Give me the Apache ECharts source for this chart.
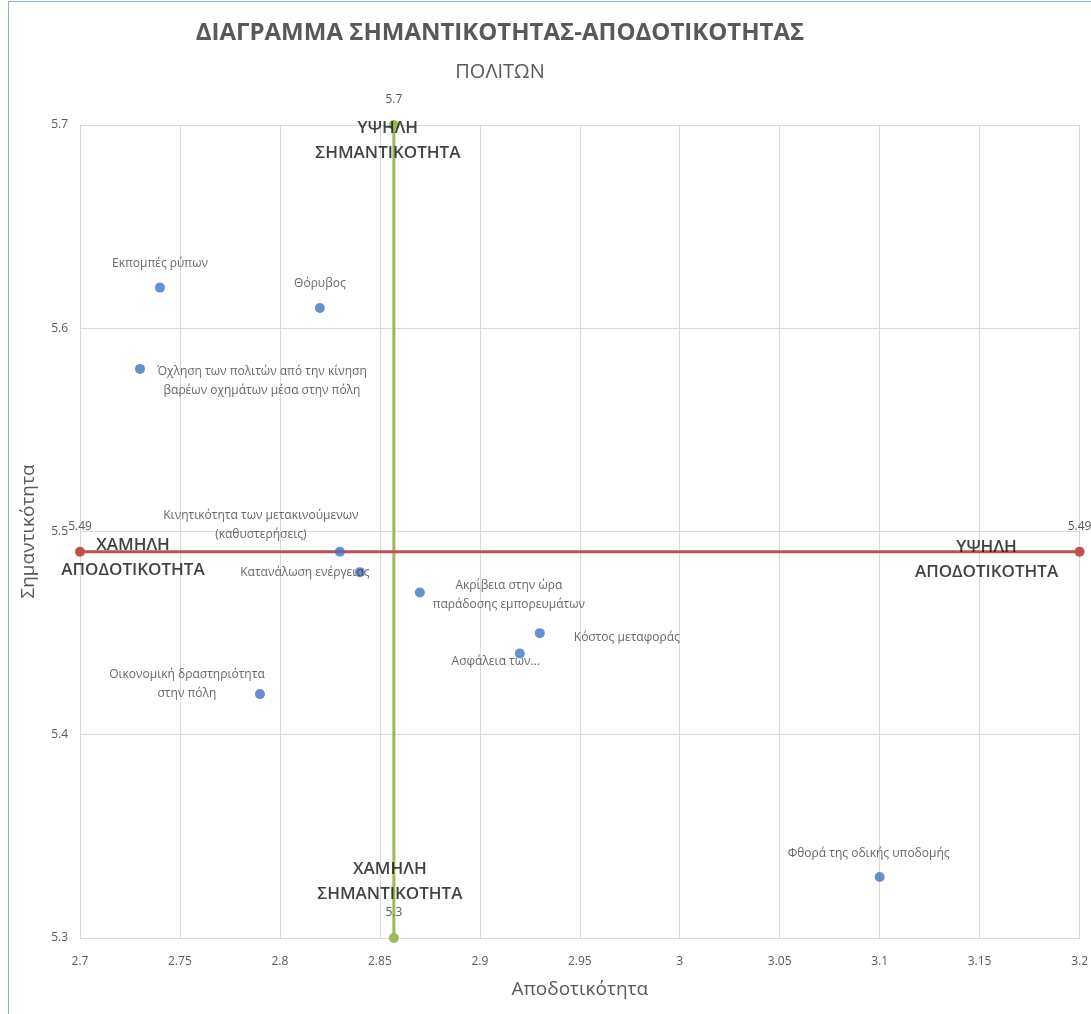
<!DOCTYPE html>
<html>
<head>
<meta charset="utf-8">
<script src="https://cdn.jsdelivr.net/npm/echarts@6/dist/echarts.min.js"></script>
<style>
  html, body { margin: 0; padding: 0; background: #fff; }
  #frame { position: absolute; left: 8px; top: 1px; width: 1090px; height: 1020px;
           border-left: 1px solid #8faadc; border-top: 1px solid #8faadc; box-sizing: border-box; }
  #main { position: absolute; left: 0; top: 0; width: 1091px; height: 1014px; }
</style>
</head>
<body>
<div id="frame"></div>
<div id="main"></div>
<script>
// σημεία: κατηγορίες και τιμές
var names = [
  'Εκπομπές ρύπων',
  'Θόρυβος',
  'Όχληση των πολιτών από την κίνηση\nβαρέων οχημάτων μέσα στην πόλη',
  'Κινητικότητα των μετακινούμενων\n(καθυστερήσεις)',
  'Κατανάλωση ενέργειας',
  'Ακρίβεια στην ώρα\nπαράδοσης εμπορευμάτων',
  'Κόστος μεταφοράς',
  'Ασφάλεια των...',
  'Οικονομική δραστηριότητα\nστην πόλη',
  'Φθορά της οδικής υποδομής'
]
var apodotikotita = [2.74, 2.82, 2.73, 2.83, 2.84, 2.87, 2.93, 2.92, 2.79, 3.10]
var simantikotita = [5.62, 5.61, 5.58, 5.49, 5.48, 5.47, 5.45, 5.44, 5.42, 5.33]

// γραμμές μέσων όρων
var meanX = 2.857
var meanY = 5.49
var redLineX = [2.7, 3.2]
var greenLineY = [5.3, 5.7]

// άξονες
var xMin = 2.7, xMax = 3.2, xStep = 0.05
var yMin = 5.3, yMax = 5.7, yStep = 0.1

// κείμενα τεταρτημορίων
var quadTexts = ['ΧΑΜΗΛΗ\nΑΠΟΔΟΤΙΚΟΤΗΤΑ', 'ΥΨΗΛΗ\nΑΠΟΔΟΤΙΚΟΤΗΤΑ', 'ΧΑΜΗΛΗ\nΣΗΜΑΝΤΙΚΟΤΗΤΑ', 'ΥΨΗΛΗ\nΣΗΜΑΝΤΙΚΟΤΗΤΑ']

// θέσεις ετικετών (px από το σημείο)
var pointOffsets = [[0, -24], [0, -24], [122, 12], [-79, -27], [-55, 0], [89, 3], [87, 4], [-24, 8], [-73, -10], [-11, -23]]
var quadOffsets = [[53, 6], [-93, 8], [-4, -56], [-6, 16]]

var FONT = '"Open Sans", "Noto Sans", sans-serif'

var points = names.map(function (n, i) {
  return {
    name: n,
    value: [apodotikotita[i], simantikotita[i]],
    label: { offset: pointOffsets[i] }
  }
})

var quadPoints = [
  [redLineX[0], meanY], [redLineX[1], meanY], [meanX, greenLineY[0]], [meanX, greenLineY[1]]
].map(function (v, i) {
  return { name: quadTexts[i], value: v, label: { offset: quadOffsets[i] } }
})

var chart = echarts.init(document.getElementById('main'))
chart.setOption({
  animation: false,
  title: [
    {
      text: 'ΔΙΑΓΡΑΜΜΑ ΣΗΜΑΝΤΙΚΟΤΗΤΑΣ-ΑΠΟΔΟΤΙΚΟΤΗΤΑΣ',
      left: 495, top: 16, textAlign: 'center',
      textStyle: { fontFamily: FONT, fontSize: 24, fontWeight: 'bold', color: '#595959' }
    },
    {
      text: 'ΠΟΛΙΤΩΝ',
      left: 495, top: 57, textAlign: 'center',
      textStyle: { fontFamily: FONT, fontSize: 20, fontWeight: 'normal', color: '#595959' }
    }
  ],
  grid: { left: 80, right: 8, top: 125, bottom: 76 },
  xAxis: {
    type: 'value', min: xMin, max: xMax, interval: xStep,
    name: 'Αποδοτικότητα', nameLocation: 'middle', nameGap: 42,
    nameTextStyle: { fontFamily: FONT, fontSize: 19, color: '#595959' },
    axisLine: { show: true, lineStyle: { color: '#d9d9d9' } },
    axisTick: { show: false },
    axisLabel: { margin: 18, fontFamily: FONT, fontSize: 12, color: '#595959' },
    splitLine: { lineStyle: { color: '#d9d9d9' } }
  },
  yAxis: {
    type: 'value', min: yMin, max: yMax, interval: yStep,
    name: 'Σημαντικότητα', nameLocation: 'middle', nameGap: 42, nameRotate: 90,
    nameTextStyle: { fontFamily: FONT, fontSize: 19, color: '#595959' },
    axisLine: { show: true, lineStyle: { color: '#d9d9d9' } },
    axisTick: { show: false },
    axisLabel: { margin: 12, fontFamily: FONT, fontSize: 12, color: '#595959' },
    splitLine: { lineStyle: { color: '#d9d9d9' } }
  },
  series: [
    {
      name: 'Μέση αποδοτικότητα',
      type: 'line',
      data: greenLineY.map(function (y) { return [meanX, y] }),
      symbol: 'circle', symbolSize: 10,
      lineStyle: { color: '#9bbb59', width: 3 },
      itemStyle: { color: '#9bbb59' },
      label: {
        show: true, position: 'top', distance: 14,
        formatter: function (p) { return p.value[1] },
        fontFamily: FONT, fontSize: 12, color: '#595959'
      },
      z: 3
    },
    {
      name: 'Μέση σημαντικότητα',
      type: 'line',
      data: redLineX.map(function (x) { return [x, meanY] }),
      symbol: 'circle', symbolSize: 10,
      lineStyle: { color: '#c0504d', width: 3 },
      itemStyle: { color: '#c0504d' },
      label: {
        show: true, position: 'top', distance: 14,
        formatter: function (p) { return p.value[1] },
        fontFamily: FONT, fontSize: 12, color: '#595959'
      },
      z: 3
    },
    {
      name: 'Τεταρτημόρια',
      type: 'scatter',
      data: quadPoints,
      symbolSize: 0,
      silent: true,
      label: {
        show: true, position: 'inside',
        formatter: '{b}', align: 'center', lineHeight: 25,
        fontFamily: FONT, fontSize: 17, fontWeight: 600, color: '#111'
      },
      z: 4
    },
    {
      name: 'Κριτήρια',
      type: 'scatter',
      data: points,
      symbolSize: 10,
      itemStyle: { color: '#4472c4' },
      label: {
        show: true, position: 'inside',
        formatter: '{b}', align: 'center', lineHeight: 19,
        fontFamily: FONT, fontSize: 12, color: '#404040'
      },
      z: 5
    }
  ]
})
</script>
</body>
</html>
